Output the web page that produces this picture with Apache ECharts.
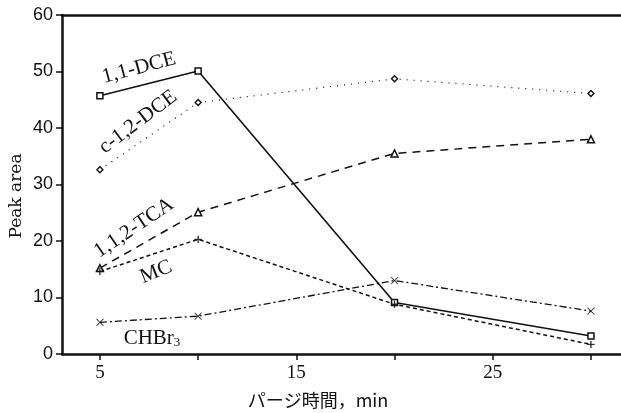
<!DOCTYPE html>
<html><head><meta charset="utf-8">
<script src="https://cdn.jsdelivr.net/npm/echarts@6/dist/echarts.min.js"></script>
<style>html,body{margin:0;padding:0;background:#fff}#c{width:621px;height:413px}</style>
</head><body><div id="c"></div>
<script>
const times = [5, 10, 20, 30];
const dce11 = [45.7, 50.1, 9.1, 3.2];
const dceC12 = [32.6, 44.5, 48.7, 46.1];
const tca112 = [15.2, 25.1, 35.5, 38.0];
const mc = [14.6, 20.3, 8.8, 1.7];
const chbr3 = [5.6, 6.7, 13.0, 7.6];
const xTicks = [5, 10, 15, 20, 25, 30];
const xLabels = [5, 15, 25];
const seriesNames = ['1,1-DCE', 'c-1,2-DCE', '1,1,2-TCA', 'MC', 'CHBr₃'];

const serif = 'Liberation Serif';
const pair = arr => times.map((t, i) => [t, arr[i]]);
const mk = (name, data, w, dash, symbol, size, bw, fill) => ({
  name, type: 'line', data: pair(data), symbol, symbolSize: size,
  lineStyle: { color: '#111', width: w, type: dash },
  itemStyle: { color: fill, borderColor: '#111', borderWidth: bw },
  animation: false, z: 3
});
const lbl = (text, x, y, deg, size) => ({
  type: 'text', x, y, rotation: deg * Math.PI / 180,
  style: { text, fontFamily: serif, fontSize: size, fill: '#111', align: 'center', verticalAlign: 'middle' }
});
const chart = echarts.init(document.getElementById('c'));
chart.setOption({
  backgroundColor: '#fff',
  animation: false,
  grid: { left: 62, right: 0, top: 15, bottom: 59 },
  xAxis: [{
    type: 'value', min: 3.07, max: 31.53,
    axisLine: { lineStyle: { color: '#111', width: 2.5 } },
    axisTick: { show: true, customValues: xTicks, length: 6, inside: false, lineStyle: { color: '#111', width: 1.5 } },
    axisLabel: { customValues: xLabels, color: '#111', fontFamily: serif, fontSize: 19, margin: 10 },
    splitLine: { show: false }
  }, {
    type: 'value', position: 'top', min: 3.07, max: 31.53,
    axisLine: { show: true, lineStyle: { color: '#111', width: 2.5 } },
    axisTick: { show: false }, axisLabel: { show: false }, splitLine: { show: false }
  }],
  yAxis: {
    type: 'value', min: 0, max: 60, interval: 10,
    axisLine: { show: true, lineStyle: { color: '#111', width: 2.5 } },
    axisTick: { show: true, length: 6, lineStyle: { color: '#111', width: 1.5 } },
    axisLabel: { color: '#111', fontFamily: 'Liberation Sans', fontSize: 18, margin: 9 },
    splitLine: { show: false }
  },
  series: [
    mk(seriesNames[0], dce11, 1.6, 'solid', 'rect', 6, 1.5, '#fff'),
    mk(seriesNames[1], dceC12, 1.2, [1, 6], 'diamond', 6, 1.4, '#fff'),
    mk(seriesNames[2], tca112, 1.5, [8, 6], 'triangle', 7, 1.5, '#fff'),
    mk(seriesNames[3], mc, 1.5, [4, 3], 'path://M-0.6,-5H0.6V-0.6H5V0.6H0.6V5H-0.6V0.6H-5V-0.6H-0.6Z', 7, 0.3, '#111'),
    mk(seriesNames[4], chbr3, 1.3, [7, 3, 2, 3], 'path://M-4.5,-4L-4,-4.5L0,-0.5L4,-4.5L4.5,-4L0.5,0L4.5,4L4,4.5L0,0.5L-4,4.5L-4.5,4L-0.5,0Z', 7, 0.3, '#111')
  ],
  graphic: [
    lbl(seriesNames[0], 139, 68, 15, 21),
    lbl(seriesNames[1], 138, 122, 37, 21),
    lbl(seriesNames[2], 134, 228, 34, 21),
    lbl(seriesNames[3], 156, 272, 22, 21),
    { type: 'text', x: 152, y: 338, style: { text: 'CHBr{s|3}', rich: { s: { fontFamily: serif, fontSize: 13, fill: '#111', verticalAlign: 'bottom', padding: [9, 0, 0, 0] } }, fontFamily: serif, fontSize: 21, fill: '#111', align: 'center', verticalAlign: 'middle' } },
    { type: 'text', x: 17, y: 196, rotation: Math.PI / 2, style: { text: 'Peak area', fontFamily: 'DejaVu Serif', fontSize: 17, fill: '#111', align: 'center', verticalAlign: 'middle' } },
    { type: 'text', x: 318, y: 400, style: { text: 'パージ時間，min', fontFamily: 'Noto Sans CJK JP', fontSize: 18, fill: '#111', align: 'center', verticalAlign: 'middle' } }
  ]
});
</script></body></html>
